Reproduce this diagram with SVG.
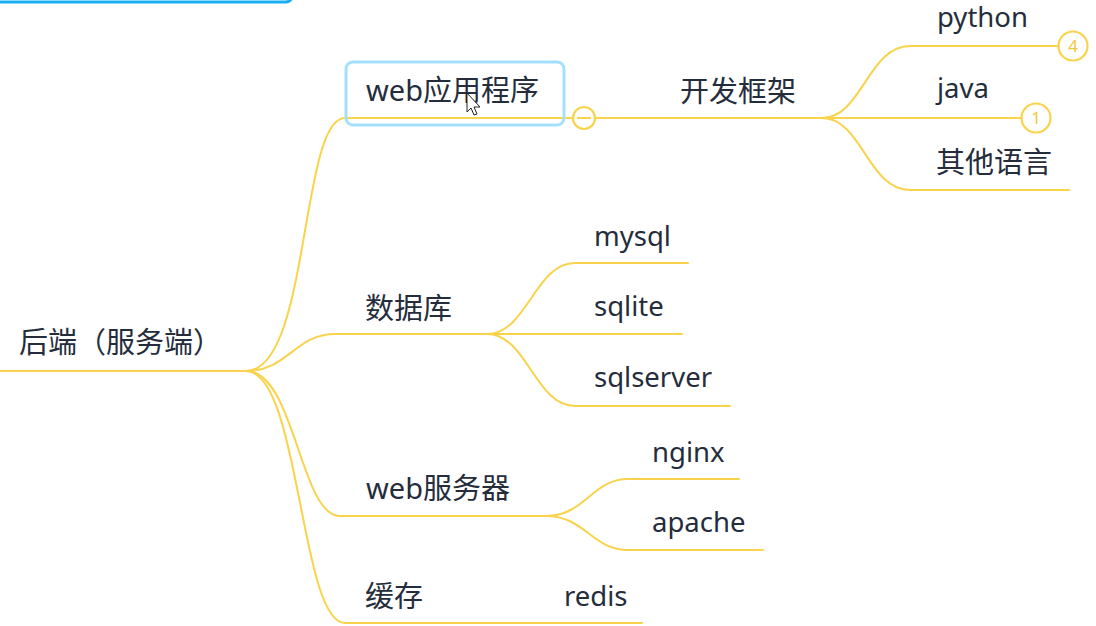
<svg xmlns="http://www.w3.org/2000/svg" width="1096" height="626" viewBox="0 0 1096 626">
<style>
.conn{fill:none;stroke:#f9d34c;stroke-width:2;stroke-linecap:round}
.t{font-family:"Noto Sans","Noto Sans CJK SC",sans-serif;font-size:27.5px;fill:#252d3c}
.c{font-size:29px}
.badge{fill:#fff;stroke:#f9d34c;stroke-width:2.2}
.bt{font-family:"Noto Sans",sans-serif;font-size:17px;fill:#f2c83a;text-anchor:middle}
</style>
<rect x="0" y="0" width="1096" height="626" fill="#fff"/>
<rect x="-6" y="-20" width="298" height="22" rx="6" fill="#fff" stroke="#1aadf2" stroke-width="3"/>
<g id="connectors">
<path class="conn" d="M0,371 H246" stroke-width="3.2"/>
<path class="conn" d="M246,371 C310,371 300,118 345,118 H573"/>
<path class="conn" d="M595,118 H822"/>
<path class="conn" d="M822,118 C862,118 868,46 910,46 H1058"/>
<path class="conn" d="M822,118 H1022"/>
<path class="conn" d="M822,118 C862,118 868,190 910,190 H1069"/>
<path class="conn" d="M246,371 C288,371 295,334 335,334 H487"/>
<path class="conn" d="M487,334 C527,334 535,263 575,263 H688"/>
<path class="conn" d="M487,334 H682"/>
<path class="conn" d="M487,334 C527,334 535,406 575,406 H730"/>
<path class="conn" d="M246,371 C295,371 300,516 340,516 H546"/>
<path class="conn" d="M546,516 C585,516 592,479 628,479 H739"/>
<path class="conn" d="M546,516 C585,516 592,550 628,550 H763"/>
<path class="conn" d="M246,371 C300,371 300,623 345,623 H642"/>
</g>
<g id="root"><text class="t c" x="19" y="353">后端（服务端）</text></g>
<g id="n-webapp">
<rect x="346" y="62" width="218" height="63" rx="7" fill="none" stroke="#a3e0fb" stroke-width="3"/>
<text class="t c" x="366" y="101">web应用程序</text>
<circle class="badge" cx="584" cy="118" r="11"/>
<path d="M577,118 H591" stroke="#f9d34c" stroke-width="2"/>
</g>
<g id="n-framework"><text class="t c" x="680" y="102">开发框架</text></g>
<g id="n-python"><text class="t" x="937" y="27">python</text>
<circle class="badge" cx="1073" cy="46" r="14.5"/><text class="bt" x="1073" y="52">4</text></g>
<g id="n-java"><text class="t" x="937" y="98">java</text>
<circle class="badge" cx="1036" cy="118" r="14.5"/><text class="bt" x="1036" y="124">1</text></g>
<g id="n-other"><text class="t c" x="936" y="173">其他语言</text></g>
<g id="n-db"><text class="t c" x="365" y="319">数据库</text></g>
<g id="n-mysql"><text class="t" x="594" y="246">mysql</text></g>
<g id="n-sqlite"><text class="t" x="594" y="316">sqlite</text></g>
<g id="n-sqlserver"><text class="t" x="594" y="387">sqlserver</text></g>
<g id="n-webserver"><text class="t c" x="366" y="499">web服务器</text></g>
<g id="n-nginx"><text class="t" x="652" y="462">nginx</text></g>
<g id="n-apache"><text class="t" x="652" y="532">apache</text></g>
<g id="n-cache"><text class="t c" x="365" y="607">缓存</text></g>
<g id="n-redis"><text class="t" x="564" y="606">redis</text></g>
<path d="M467,93 L467,112 L471,108 L474,115 L477,114 L474,107 L480,107 Z" fill="#fff" stroke="#222" stroke-width="1"/>
</svg>
